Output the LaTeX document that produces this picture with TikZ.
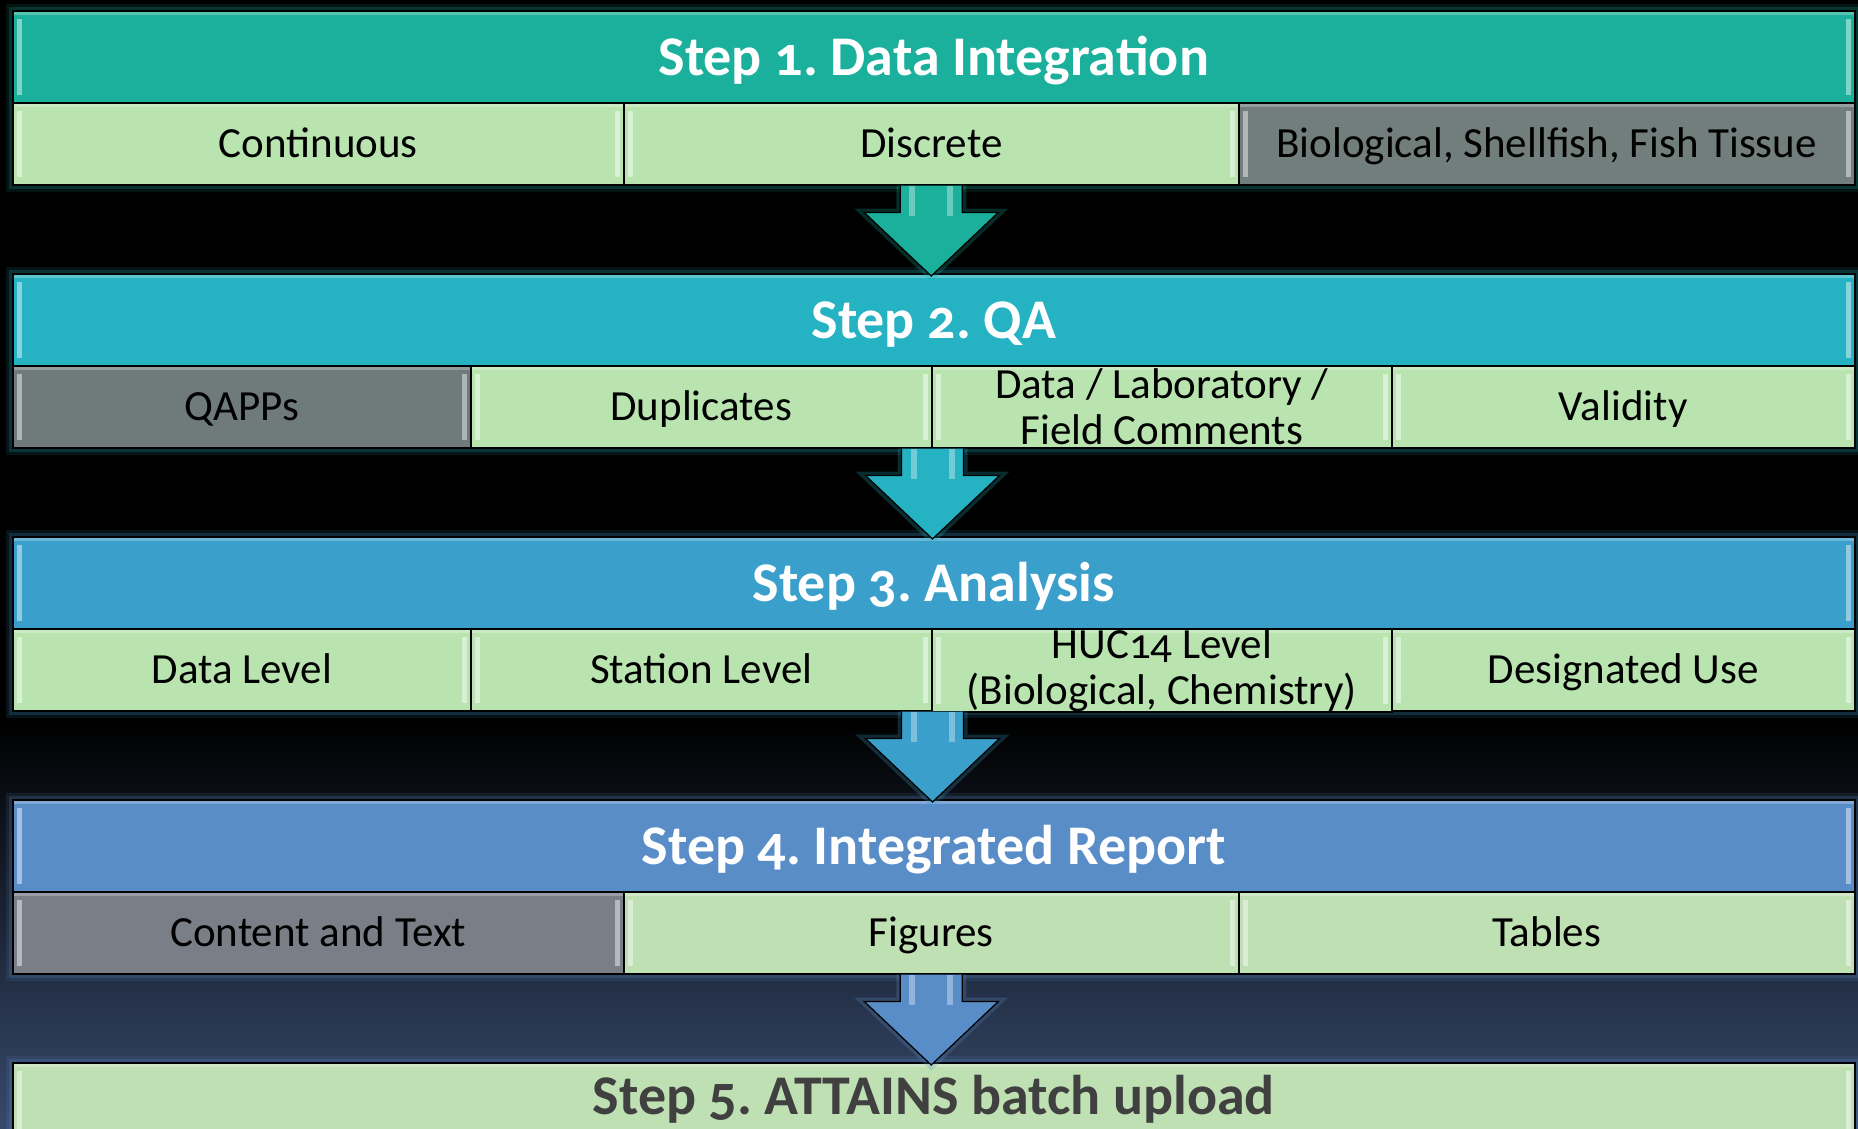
\documentclass[tikz,border=0pt]{standalone}
\usepackage{fontspec}
\setmainfont{Carlito}[Numbers=OldStyle]
\frenchspacing
\usetikzlibrary{calc,backgrounds}

\definecolor{stepone}{HTML}{1BB09C}
\definecolor{steptwo}{HTML}{25B2C3}
\definecolor{stepthree}{HTML}{3A9FCA}
\definecolor{stepfour}{HTML}{598DC8}
\definecolor{subgreen}{HTML}{B9E4AF}
\definecolor{subpale}{HTML}{BFE0B3}
\definecolor{greyone}{HTML}{717E7C}
\definecolor{greytwo}{HTML}{6F7B7B}
\definecolor{greyfour}{HTML}{7A7E87}
\definecolor{bgnavy}{HTML}{37496B}
\definecolor{lastgrey}{HTML}{404040}

\newcommand{\headfont}{\fontsize{56pt}{60pt}\selectfont\bfseries}
\newcommand{\subfont}{\fontsize{43pt}{46pt}\selectfont}

\newcommand{\blockarrow}[3]{
  \draw [arrowbody, fill=#3, preaction={draw=#3, line width=8pt, opacity=0.25}]
    ($(#1)+(-31,0)$) -- ($(#1)+(-31,27)$) -- ($(#1)+(-67,27)$)
    -- ($(#1 |- #2)+(0,3)$)
    -- ($(#1)+(67,27)$) -- ($(#1)+(31,27)$) -- ($(#1)+(31,0)$);
  \fill [white, opacity=0.35] ($(#1)+(-22,0)$) rectangle ($(#1)+(-16,30)$);
  \fill [white, opacity=0.35] ($(#1)+(16,0)$) rectangle ($(#1)+(22,30)$);
}

\tikzset{
  bevel/.style={path picture={
    \fill [white, opacity=0.45] ([xshift=4pt,yshift=-8pt]path picture bounding box.north west)
      rectangle ([xshift=9pt,yshift=8pt]path picture bounding box.south west);
    \fill [white, opacity=0.45] ([xshift=-4pt,yshift=-8pt]path picture bounding box.north east)
      rectangle ([xshift=-9pt,yshift=8pt]path picture bounding box.south east);
    \fill [white, opacity=0.25] (path picture bounding box.north west)
      rectangle ([yshift=-4pt]path picture bounding box.north east);
  }},
  head/.style={draw=black, line width=1.5pt, anchor=north west, inner sep=0pt,
    minimum width=1842pt, minimum height=92pt, text=white, font=\headfont,
    text height=37pt, text depth=0pt, bevel},
  sub/.style={draw=black, line width=1.5pt, anchor=north west, inner sep=0pt,
    minimum height=82pt, fill=subgreen, text=black, font=\subfont,
    text height=28pt, text depth=0pt, bevel},
  subtwo/.style={draw=black, line width=1.5pt, anchor=north west, inner sep=0pt,
    minimum height=82pt, fill=subgreen, text=black, font=\subfont,
    align=center, bevel},
  arrowbody/.style={draw=black, line width=1.2pt, line join=miter},
  boxglow/.style={draw=#1, line width=12pt, opacity=0.12,
    preaction={draw=#1, line width=7pt, opacity=0.2}}
}

\begin{document}
\begin{tikzpicture}[x=1pt, y=-1pt]
\useasboundingbox (0,0) rectangle (1858,1128);

% step 1
\node (h1) [head, fill=stepone] at (12, 10) {Step 1. Data Integration};
\node (s1a) [sub, minimum width=611pt] at (12, 102) {Continuous};
\node (s1b) [sub, minimum width=615pt] at (623, 102) {Discrete};
\node (s1c) [sub, minimum width=616pt, fill=greyone] at (1238, 102) {Biological, Shellfish, Fish Tissue};

% step 2
\node (h2) [head, fill=steptwo] at (12, 273) {Step 2. QA};
\node (s2a) [sub, minimum width=458pt, fill=greytwo] at (12, 365) {QAPPs};
\node (s2b) [sub, minimum width=461pt] at (470, 365) {Duplicates};
\node (s2c) [subtwo, minimum width=460pt] at (931, 365) {Data / Laboratory /\\Field Comments};
\node (s2d) [sub, minimum width=463pt] at (1391, 365) {Validity};

% step 3
\node (h3) [head, fill=stepthree] at (12, 536) {Step 3. Analysis};
\node (s3a) [sub, minimum width=458pt] at (12, 628) {Data Level};
\node (s3b) [sub, minimum width=461pt] at (470, 628) {Station Level};
\node (s3c) [subtwo, minimum width=460pt] at (931, 628) {HUC14 Level\\(Biological, Chemistry)};
\node (s3d) [sub, minimum width=463pt] at (1391, 628) {Designated Use};

% step 4
\node (h4) [head, fill=stepfour] at (12, 799) {Step 4. Integrated Report};
\node (s4a) [sub, minimum width=611pt, fill=greyfour] at (12, 891) {Content and Text};
\node (s4b) [sub, minimum width=615pt, fill=subpale] at (623, 891) {Figures};
\node (s4c) [sub, minimum width=616pt, fill=subpale] at (1238, 891) {Tables};

% step 5
\node (h5) [head, fill=subpale, text=lastgrey, text height=52pt, text depth=60pt,
  minimum height=0pt] at (12, 1062) {Step 5. ATTAINS batch upload};

% arrows between the steps
\blockarrow {s1b.south} {h2.north} {stepone}
\blockarrow {s2b.south east} {h3.north} {steptwo}
\blockarrow {s3b.south east} {h4.north} {stepthree}
\blockarrow {s4b.south} {h5.north} {stepfour}

% backdrop and glow
\begin{scope}[on background layer]
  \fill [black] (0,0) rectangle (1858,1128);
  \shade [top color=black, bottom color=bgnavy] (0,720) rectangle (1858,1128);
  \draw [boxglow=stepone] (h1.north west) rectangle (s1c.south east);
  \draw [boxglow=steptwo] (h2.north west) rectangle (s2d.south east);
  \draw [boxglow=stepthree] (h3.north west) rectangle (s3d.south east);
  \draw [boxglow=stepfour] (h4.north west) rectangle (s4c.south east);
  \draw [boxglow=stepfour] (h5.north west) rectangle (h5.south east);
\end{scope}

\end{tikzpicture}
\end{document}
